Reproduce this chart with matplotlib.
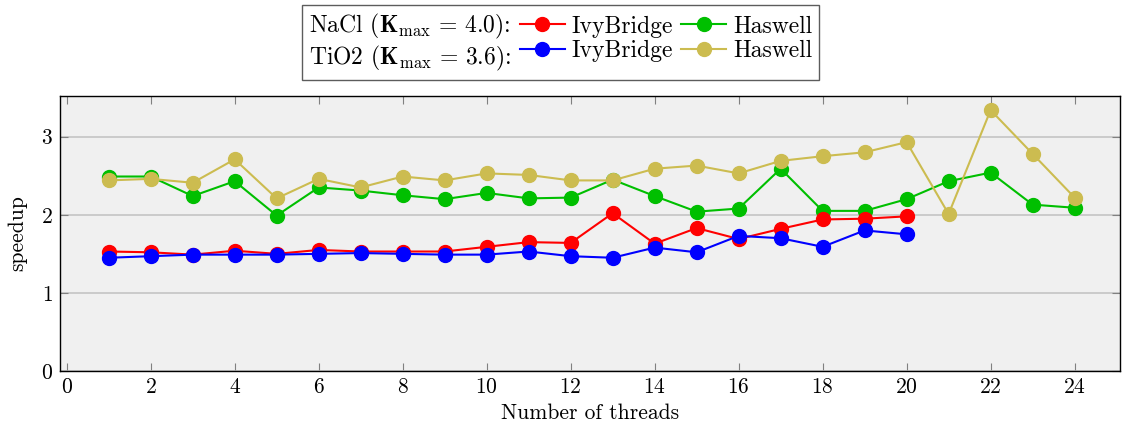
import matplotlib
matplotlib.use('Agg')
import matplotlib.pyplot as plt
from matplotlib.lines import Line2D

plt.rcParams['font.family'] = 'serif'
plt.rcParams['font.serif'] = ['cmr10', 'DejaVu Serif']
plt.rcParams['mathtext.fontset'] = 'cm'
plt.rcParams['axes.formatter.use_mathtext'] = True

threads_ivy = list(range(1, 21))
threads_has = list(range(1, 25))

nacl_ivy = [1.53, 1.52, 1.49, 1.54, 1.50, 1.55, 1.53, 1.53, 1.53, 1.59,
            1.65, 1.64, 2.02, 1.63, 1.83, 1.69, 1.82, 1.94, 1.95, 1.98]
nacl_has = [2.49, 2.49, 2.24, 2.43, 1.99, 2.35, 2.31, 2.25, 2.20, 2.28,
            2.21, 2.22, 2.45, 2.24, 2.04, 2.08, 2.59, 2.05, 2.05, 2.20,
            2.43, 2.54, 2.13, 2.09]
tio2_ivy = [1.45, 1.47, 1.49, 1.49, 1.49, 1.50, 1.51, 1.50, 1.49, 1.49,
            1.53, 1.47, 1.45, 1.58, 1.52, 1.73, 1.70, 1.59, 1.80, 1.75]
tio2_has = [2.44, 2.46, 2.41, 2.71, 2.21, 2.46, 2.35, 2.49, 2.44, 2.53,
            2.51, 2.44, 2.44, 2.59, 2.63, 2.53, 2.69, 2.75, 2.80, 2.93,
            2.01, 3.34, 2.78, 2.22]

RED = '#ff0000'
GREEN = '#00bf00'
BLUE = '#0000ff'
OLIVE = '#ccbc50'

FS = 15.5
LEG_FS = 17

fig = plt.figure(figsize=(11.23, 4.25), dpi=100)
ax = fig.add_axes([0.0534, 0.127, 0.9439, 0.647])
ax.set_facecolor('#f0f0f0')

style = dict(marker='o', markersize=10, linewidth=1.5)
l_ny, = ax.plot(threads_ivy, nacl_ivy, color=RED, zorder=4, **style)
l_nh, = ax.plot(threads_has, nacl_has, color=GREEN, zorder=2, **style)
l_ti, = ax.plot(threads_ivy, tio2_ivy, color=BLUE, zorder=5, **style)
l_th, = ax.plot(threads_has, tio2_has, color=OLIVE, zorder=3, **style)

ax.set_xlim(-0.16, 25.08)
ax.set_ylim(0, 3.52)
ax.set_xticks(range(0, 25, 2))
ax.set_yticks([0, 1, 2, 3])
ax.yaxis.grid(True, color='#c4c4c4', linewidth=1.2, zorder=0)
ax.set_axisbelow(True)
ax.tick_params(direction='in', length=6, width=0.8, color='#808080',
               top=True, right=True, labelsize=FS, pad=5)
for s in ax.spines.values():
    s.set_linewidth(1.0)
    s.set_color('black')

ax.set_xlabel('Number of threads', fontsize=FS, labelpad=4)
ax.set_ylabel('speedup', fontsize=FS, labelpad=10)

blank = Line2D([], [], linestyle='none')
handles = [blank, blank, l_ny, l_ti, l_nh, l_th]
labels = [r'NaCl ($\mathbf{K}_{\max}\,=\,4.0$):', r'TiO2 ($\mathbf{K}_{\max}\,=\,3.6$):',
          'IvyBridge', 'IvyBridge', 'Haswell', 'Haswell']
leg = fig.legend(handles, labels, ncol=3, loc='upper center',
                 bbox_to_anchor=(0.4995, 0.988), fontsize=LEG_FS, frameon=True,
                 fancybox=False, edgecolor='#333333', handlelength=1.9,
                 handletextpad=0.3, columnspacing=0.35, borderpad=0.3,
                 labelspacing=0.1, borderaxespad=0)
leg.get_frame().set_linewidth(1.0)

# row titles carry no handle: collapse their handle boxes
first_col = leg._legend_handle_box.get_children()[0]
for row in first_col.get_children():
    row.get_children()[0].width = 0
    row.sep = 0

fig.savefig('out.png', dpi=100)
